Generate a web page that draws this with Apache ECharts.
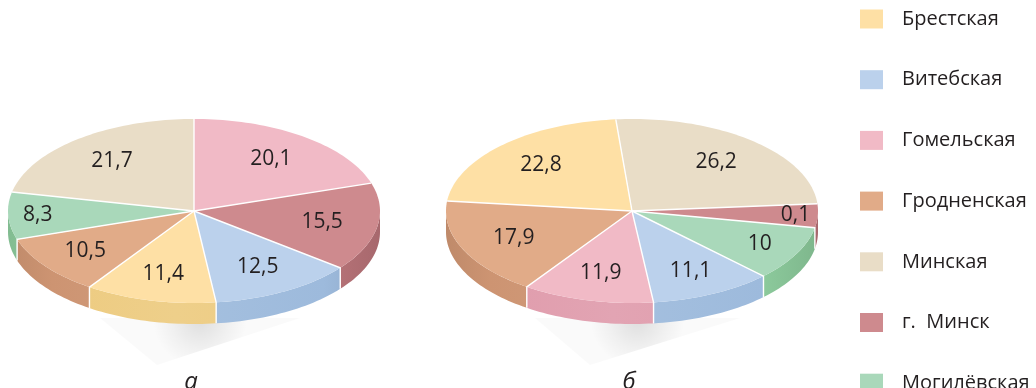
<!DOCTYPE html>
<html>
<head>
<meta charset="utf-8">
<script src="https://cdn.jsdelivr.net/npm/echarts@6/dist/echarts.min.js"></script>
<style>
  html, body { margin: 0; padding: 0; background: #ffffff; }
  #chart { width: 1036px; height: 388px; }
</style>
</head>
<body>
<div id="chart"></div>
<script>
// Regions (legend order)
const REGIONS = ['Брестская', 'Витебская', 'Гомельская', 'Гродненская', 'Минская', 'г.  Минск', 'Могилёвская'];
// Shares, %, per region
const SHARE_A = [11.4, 12.5, 20.1, 10.5, 21.7, 15.5, 8.3];
const SHARE_B = [22.8, 11.1, 11.9, 17.9, 26.2, 0.1, 10];
// Clockwise order of regions around each pie, starting at the top
const ORDER_A = [2, 5, 1, 0, 3, 6, 4];
const ORDER_B = [4, 5, 6, 1, 2, 3, 0];
// Captions under the pies
const PIE_CAPTIONS = ['а', 'б'];

// Top-face and wall colours per region
const TOP_COLORS  = ['#FEE0A5', '#BBD1EC', '#F1BAC6', '#E1AB88', '#E9DDC7', '#CE8A8E', '#A9D8BA'];
const SIDE_COLORS = ['#EDCB80', '#9DBADC', '#E09CAC', '#CD9472', '#D3C4A8', '#B97479', '#8CCA9C'];

// Pie geometry (elliptical top face + wall depth)
const PIES = [
  { shares: SHARE_A, order: ORDER_A, cx: 194, cy: 211, rx: 186, ry: 92, depth: 21, start: 0 },
  { shares: SHARE_B, order: ORDER_B, cx: 632, cy: 211, rx: 186, ry: 92, depth: 21, start: -5 }
];
const MIN_ANGLE = 15; // degrees, keeps tiny slices visible

const DEG = Math.PI / 180;

// Angular layout of a pie, like the pie series' minAngle handling
function layout(pie) {
  const vals = pie.shares;
  const total = vals.reduce((a, b) => a + b, 0);
  const small = vals.map(v => v / total * 360 < MIN_ANGLE);
  const nSmall = small.filter(Boolean).length;
  const restSum = vals.reduce((a, v, i) => a + (small[i] ? 0 : v), 0);
  const unit = (360 - nSmall * MIN_ANGLE) / restSum;
  const res = new Array(vals.length);
  let t = pie.start;
  pie.order.forEach(i => {
    const sweep = small[i] ? MIN_ANGLE : vals[i] * unit;
    res[i] = { t0: t, t1: t + sweep, sweep };
    t += sweep;
  });
  return res;
}
const LAYOUTS = PIES.map(layout);

function pt(p, tDeg, k, dy) {
  return [p.cx + p.rx * k * Math.sin(tDeg * DEG), p.cy - p.ry * k * Math.cos(tDeg * DEG) + (dy || 0)];
}
function arc(p, a, b, dy) {
  const pts = [];
  const n = Math.max(2, Math.ceil(Math.abs(b - a) / 1.5));
  for (let j = 0; j <= n; j++) pts.push(pt(p, a + (b - a) * j / n, 1, dy));
  return pts;
}
function shade(hex, f) {
  const n = parseInt(hex.slice(1), 16);
  const c = [(n >> 16) & 255, (n >> 8) & 255, n & 255].map(v =>
    Math.round(f < 0 ? v * (1 + f) : v + (255 - v) * f));
  return 'rgb(' + c.join(',') + ')';
}
function fmt(v) { return String(v).replace('.', ','); }

function renderSlice(params, api) {
  const r = params.seriesIndex;
  const pIdx = params.dataIndex;
  const p = PIES[pIdx];
  const L = LAYOUTS[pIdx][r];
  const value = api.value(1);
  const children = [];

  // front wall: visible for the part of the slice between 90° and 270°
  const a = Math.max(L.t0, 90), b = Math.min(L.t1, 270);
  if (b > a) {
    const top = arc(p, a, b, 0);
    const bottom = arc(p, b, a, p.depth);
    children.push({
      type: 'polygon', z2: 1,
      shape: { points: top.concat(bottom) },
      style: {
        fill: new echarts.graphic.LinearGradient(p.cx - p.rx, 0, p.cx + p.rx, 0, [
          { offset: 0, color: shade(SIDE_COLORS[r], -0.07) },
          { offset: 0.12, color: SIDE_COLORS[r] },
          { offset: 0.45, color: shade(SIDE_COLORS[r], 0.08) },
          { offset: 0.85, color: SIDE_COLORS[r] },
          { offset: 1, color: shade(SIDE_COLORS[r], -0.1) }
        ], true)
      }
    });
  }

  // top face
  children.push({
    type: 'polygon', z2: 2,
    shape: { points: [[p.cx, p.cy]].concat(arc(p, L.t0, L.t1, 0)) },
    style: { fill: TOP_COLORS[r] }
  });

  // white separator at the start edge of the slice
  const rim = pt(p, L.t0, 1, 0);
  const sep = [[p.cx, p.cy], rim];
  const tn = ((L.t0 % 360) + 360) % 360;
  if (tn > 90 && tn < 270) sep.push([rim[0], rim[1] + p.depth]);
  children.push({
    type: 'polyline', z2: 5,
    shape: { points: sep },
    style: { stroke: '#ffffff', lineWidth: 1.4, fill: null }
  });

  // value label
  const k = L.sweep >= 40 ? 0.7 : Math.min(0.88, 0.7 + (40 - L.sweep) / 40 * 0.56);
  const lp = pt(p, (L.t0 + L.t1) / 2, k, 0);
  children.push({
    type: 'text', z2: 10,
    style: {
      text: fmt(value), x: lp[0], y: lp[1],
      fill: '#231F20', font: '21px "Open Sans", sans-serif',
      align: 'center', verticalAlign: 'middle'
    }
  });

  return { type: 'group', children };
}

const series = REGIONS.map((name, r) => ({
  type: 'custom',
  name,
  coordinateSystem: 'none',
  itemStyle: { color: TOP_COLORS[r] },
  data: PIES.map((p, i) => [i, p.shares[r]]),
  renderItem: renderSlice,
  silent: true
}));

// soft floor shadows under the front of each pie
const shadows = [
  [[100, 318], [300, 318], [157, 365]],
  [[535, 318], [740, 318], [590, 365]]
].map(points => ({
  type: 'polygon', z: -1,
  shape: { points },
  style: {
    fill: new echarts.graphic.RadialGradient(0.5, 0.05, 1, [
      { offset: 0, color: 'rgba(0,0,0,0.13)' },
      { offset: 0.6, color: 'rgba(0,0,0,0.06)' },
      { offset: 1, color: 'rgba(0,0,0,0.02)' }
    ])
  }
}));

const captions = PIE_CAPTIONS.map((t, i) => ({
  type: 'text',
  style: {
    text: t, x: PIES[i].cx - 3, y: 382,
    fill: '#231F20', font: 'italic 24px "Open Sans", sans-serif',
    align: 'center', verticalAlign: 'middle'
  }
}));

const chart = echarts.init(document.getElementById('chart'), null, { renderer: 'canvas' });
chart.setOption({
  animation: false,
  backgroundColor: '#ffffff',
  legend: {
    orient: 'vertical',
    left: 860, top: 9,
    height: 440,
    padding: 0,
    icon: 'rect',
    itemWidth: 23, itemHeight: 19, itemGap: 40.7,
    selectedMode: false,
    data: REGIONS,
    textStyle: {
      fontFamily: '"Open Sans", sans-serif', fontSize: 20, color: '#231F20',
      lineHeight: 19, padding: [0, 0, 0, 14]
    }
  },
  graphic: shadows.concat(captions),
  series
});
</script>
</body>
</html>
